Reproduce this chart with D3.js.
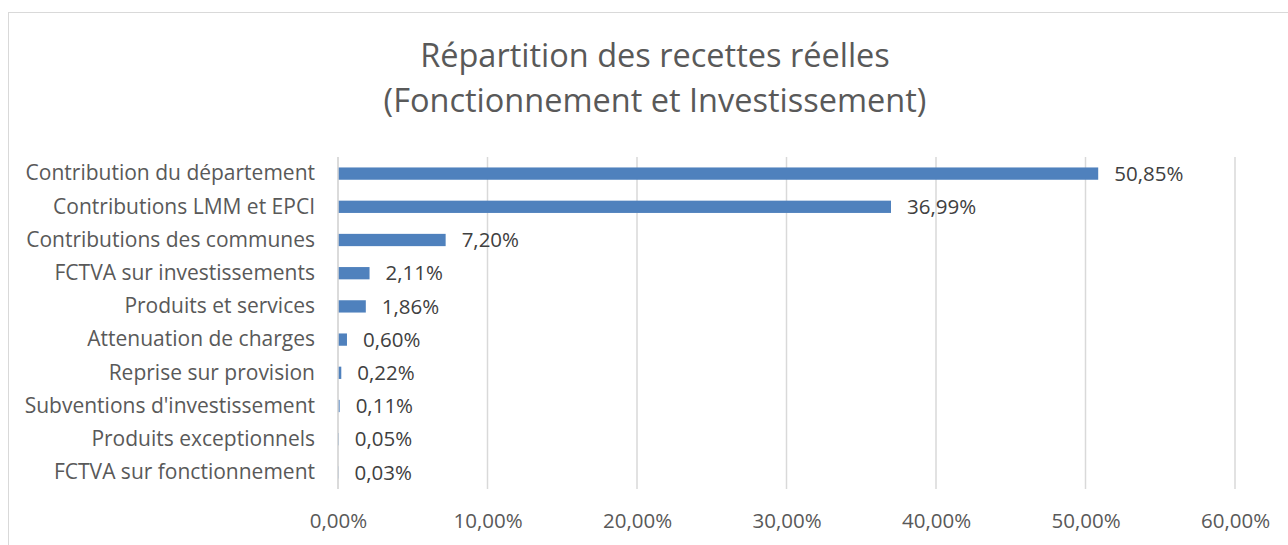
<!DOCTYPE html>
<html>
  <head>
    <meta charset="utf-8">
    <script src="https://d3js.org/d3.v7.min.js"></script>
    <style>
      body { margin: 0; background: #fff; }
      text { font-family: "Open Sans", "Noto Sans", sans-serif; }
    </style>
  </head>
  <body>
    <script type="text/javascript">

    // categories, top to bottom
    var categories = [
        "Contribution du département",
        "Contributions LMM et EPCI",
        "Contributions des communes",
        "FCTVA sur investissements",
        "Produits et services",
        "Attenuation de charges",
        "Reprise sur provision",
        "Subventions d'investissement",
        "Produits exceptionnels",
        "FCTVA sur fonctionnement"
    ];
    // share of real receipts, in percent
    var values = [50.85, 36.99, 7.20, 2.11, 1.86, 0.60, 0.22, 0.11, 0.05, 0.03];
    var xTicks = [0, 10, 20, 30, 40, 50, 60];
    var titleLines = ["Répartition des recettes réelles", "(Fonctionnement et Investissement)"];

    var width = 1288, height = 545;
    var svg = d3.select("body").append("svg")
        .attr("width", width)
        .attr("height", height);

    var pct = function (d) { return d3.format(".2f")(d).replace(".", ",") + "%"; };

    // chart frame
    svg.append("rect")
        .attr("x", 8.5).attr("y", 12.5)
        .attr("width", 1300).attr("height", 560)
        .attr("fill", "none")
        .attr("stroke", "#d9d9d9");

    // title
    svg.selectAll("text.title")
        .data(titleLines)
        .enter()
        .append("text")
          .attr("class", "title")
          .attr("x", 655)
          .attr("y", function (d, i) { return 67 + i * 45; })
          .attr("text-anchor", "middle")
          .style("font-size", "32.5px")
          .style("fill", "#595959")
          .text(function (d) { return d; });

    var x = d3.scaleLinear().domain([0, 60]).range([338, 1235]);
    var y = d3.scaleBand().domain(categories).range([157, 489]).paddingInner(0.63).paddingOuter(0.315);

    // gridlines
    svg.selectAll("line.grid")
        .data(xTicks)
        .enter()
        .append("line")
          .attr("class", "grid")
          .attr("x1", function (d) { return x(d); })
          .attr("x2", function (d) { return x(d); })
          .attr("y1", 157)
          .attr("y2", 489)
          .attr("stroke", "#d9d9d9")
          .attr("stroke-width", 1.5);

    // x axis tick labels
    var xAxis = d3.axisBottom(x)
        .tickValues(xTicks)
        .tickSize(0)
        .tickPadding(0)
        .tickFormat(pct);
    var gx = svg.append("g").attr("transform", "translate(0,513)").call(xAxis);
    gx.select(".domain").remove();
    gx.selectAll("text")
        .attr("dy", "0.71em")
        .style("font-size", "20.5px")
        .style("font-family", "'Open Sans', 'Noto Sans', sans-serif")
        .style("fill", "#595959");

    // y axis labels
    var yAxis = d3.axisLeft(y).tickSize(0).tickPadding(0);
    var gy = svg.append("g").attr("transform", "translate(315,0)").call(yAxis);
    gy.select(".domain").remove();
    gy.selectAll("text")
        .style("font-size", "21px")
        .style("font-family", "'Open Sans', 'Noto Sans', sans-serif")
        .style("fill", "#595959");

    // bars
    svg.selectAll("rect.bar")
        .data(values)
        .enter()
        .append("rect")
          .attr("class", "bar")
          .attr("x", x(0))
          .attr("y", function (d, i) { return y(categories[i]); })
          .attr("width", function (d) { return x(d) - x(0); })
          .attr("height", y.bandwidth())
          .attr("fill", "#4f81bd");

    // data labels
    svg.selectAll("text.label")
        .data(values)
        .enter()
        .append("text")
          .attr("class", "label")
          .attr("x", function (d) { return x(d) + 16; })
          .attr("y", function (d, i) { return y(categories[i]) + y.bandwidth() / 2; })
          .attr("dy", "0.35em")
          .style("font-size", "20.5px")
          .style("fill", "#404040")
          .text(pct);

    // zero axis line
    svg.append("line")
        .attr("x1", x(0)).attr("x2", x(0))
        .attr("y1", 157).attr("y2", 489)
        .attr("stroke", "#d9d9d9")
        .attr("stroke-width", 1.5);

    </script>
  </body>
</html>
